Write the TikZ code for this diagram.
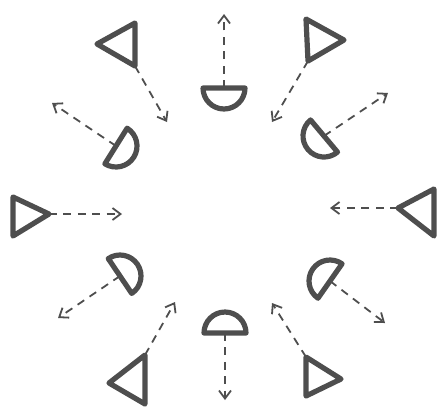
\documentclass[tikz,border=0pt]{standalone}
\usepackage{tikz}
\usetikzlibrary{arrows.meta,calc}
\definecolor{inkgray}{RGB}{78,78,78}
\newcommand{\dishat}[2]{\draw[shape line] ($(#1)+(#2+90:21)$) arc[start angle=#2+90,delta angle=180,radius=21] -- cycle;}

\begin{document}
\begin{tikzpicture}[x=0.25mm,y=-0.25mm,>={Straight Barb[length=2mm,width=3mm]}]
\tikzset{shape line/.style={draw=inkgray,line width=1.3mm,line join=round},
beam/.style={draw=inkgray,line width=0.45mm,dash pattern=on 2mm off 1.6mm,->}}
\useasboundingbox (0,0) rectangle (441,417);
% transmitters
\draw[shape line] (97,44) -- (135,23) -- (135,66) coordinate (txtl) -- cycle;
\draw[shape line] (344,40) -- (306,19) -- (308,61) coordinate (txtr) -- cycle;
\draw[shape line] (13,197) -- (13,236) -- (49,214) coordinate (txl) -- cycle;
\draw[shape line] (434,189) -- (434,236) -- (398,208) coordinate (txr) -- cycle;
\draw[shape line] (109,383) -- (145,404) -- (145,355) coordinate (txbl) -- cycle;
\draw[shape line] (341,379) -- (306,396) -- (306,357) coordinate (txbr) -- cycle;
% dishes
\coordinate (rxt) at (224,88);
\coordinate (rxtl) at (116,146);
\coordinate (rxtr) at (324,136);
\coordinate (rxbl) at (120,276);
\coordinate (rxbr) at (330,281);
\coordinate (rxb) at (225,333);
\dishat{rxt}{-90}
\dishat{rxtl}{212}
\dishat{rxtr}{-40}
\dishat{rxbl}{146}
\dishat{rxbr}{35}
\dishat{rxb}{90}
% free ends
\coordinate (etl) at (167,122);
\coordinate (etr) at (272,122);
\coordinate (el) at (122,214);
\coordinate (er) at (330,208);
\coordinate (ebl) at (175,302);
\coordinate (ebr) at (272,303);
\coordinate (ft) at (224,14);
\coordinate (ftl) at (52,103);
\coordinate (ftr) at (388,93);
\coordinate (fbl) at (58,318);
\coordinate (fbr) at (385,323);
\coordinate (fb) at (225,400);
\draw[beam] (txtl) -- (etl);
\draw[beam] (txtr) -- (etr);
\draw[beam] (txl) -- (el);
\draw[beam] (txr) -- (er);
\draw[beam] (txbl) -- (ebl);
\draw[beam] (txbr) -- (ebr);
\draw[beam] (rxt) -- (ft);
\draw[beam] (rxtl) -- (ftl);
\draw[beam] (rxtr) -- (ftr);
\draw[beam] (rxbl) -- (fbl);
\draw[beam] (rxbr) -- (fbr);
\draw[beam] (rxb) -- (fb);
\end{tikzpicture}
\end{document}
